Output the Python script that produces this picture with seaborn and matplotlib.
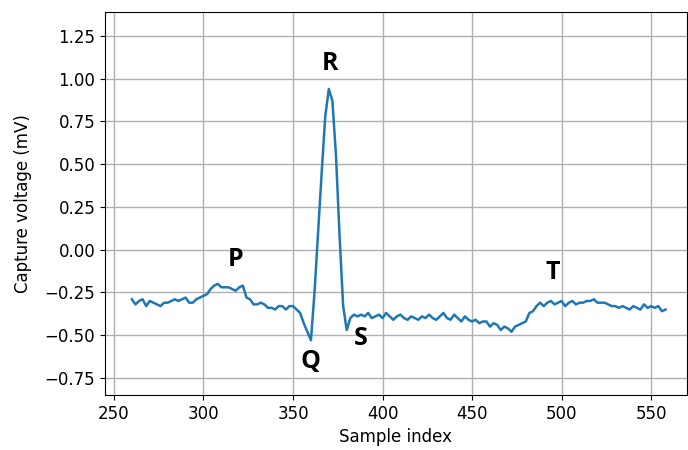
import numpy as np
import matplotlib
matplotlib.use("Agg")
import matplotlib.pyplot as plt
import seaborn as sns

# sample index (every 2nd sample) and captured voltage in mV
sample = list(range(260, 560, 2))
voltage = [
    -0.29, -0.32, -0.30, -0.29, -0.33, -0.30, -0.31, -0.32, -0.33, -0.31,
    -0.31, -0.30, -0.29, -0.30, -0.29, -0.28, -0.31, -0.31, -0.29, -0.28,
    -0.27, -0.26, -0.23, -0.21, -0.20, -0.22, -0.22, -0.22, -0.23, -0.24,
    -0.22, -0.21, -0.28, -0.29, -0.32, -0.32, -0.31, -0.32, -0.34, -0.34,
    -0.35, -0.33, -0.33, -0.35, -0.33, -0.33, -0.35, -0.37, -0.43, -0.48,
    -0.53, -0.25, 0.10, 0.45, 0.78, 0.94, 0.87, 0.55, 0.08, -0.33,
    -0.47, -0.40, -0.38, -0.39, -0.38, -0.39, -0.37, -0.40, -0.39, -0.38,
    -0.40, -0.37, -0.39, -0.41, -0.39, -0.38, -0.40, -0.41, -0.39, -0.40,
    -0.41, -0.39, -0.40, -0.38, -0.40, -0.41, -0.39, -0.37, -0.40, -0.41,
    -0.38, -0.40, -0.42, -0.39, -0.41, -0.42, -0.41, -0.43, -0.42, -0.42,
    -0.45, -0.43, -0.44, -0.47, -0.45, -0.46, -0.48, -0.45, -0.44, -0.43,
    -0.42, -0.37, -0.36, -0.33, -0.31, -0.33, -0.31, -0.30, -0.32, -0.31,
    -0.30, -0.33, -0.31, -0.30, -0.32, -0.31, -0.31, -0.30, -0.30, -0.29,
    -0.31, -0.31, -0.31, -0.32, -0.33, -0.33, -0.34, -0.33, -0.34, -0.35,
    -0.33, -0.34, -0.35, -0.32, -0.34, -0.33, -0.34, -0.33, -0.36, -0.35,
]

# wave labels and where they sit
wave_names = ["P", "Q", "R", "S", "T"]
wave_x = [318, 359.5, 370.5, 388, 495]
wave_y = [-0.06, -0.655, 1.09, -0.52, -0.135]

plt.rcParams['font.size'] = 12

fig, ax = plt.subplots(figsize=(6.88, 4.5), dpi=100)
fig.subplots_adjust(left=0.1526, right=0.9985, top=0.9733, bottom=0.1222)

sns.lineplot(x=sample, y=voltage, ax=ax, color='#1f77b4', linewidth=1.8)

for name, x, y in zip(wave_names, wave_x, wave_y):
    ax.text(x, y, name, ha='center', va='center', fontsize=18,
            fontweight='bold', family=['Open Sans', 'DejaVu Sans'])

ax.set_xlim(245, 570)
ax.set_ylim(-0.85, 1.39)
ax.set_xticks([250, 300, 350, 400, 450, 500, 550])
ax.set_yticks([-0.75, -0.5, -0.25, 0, 0.25, 0.5, 0.75, 1.0, 1.25])
ax.grid(True, color='#b0b0b0', linewidth=1.0)
ax.set_xlabel('Sample index')
ax.set_ylabel('Capture voltage (mV)', labelpad=9)

fig.savefig('out.png', dpi=100)
